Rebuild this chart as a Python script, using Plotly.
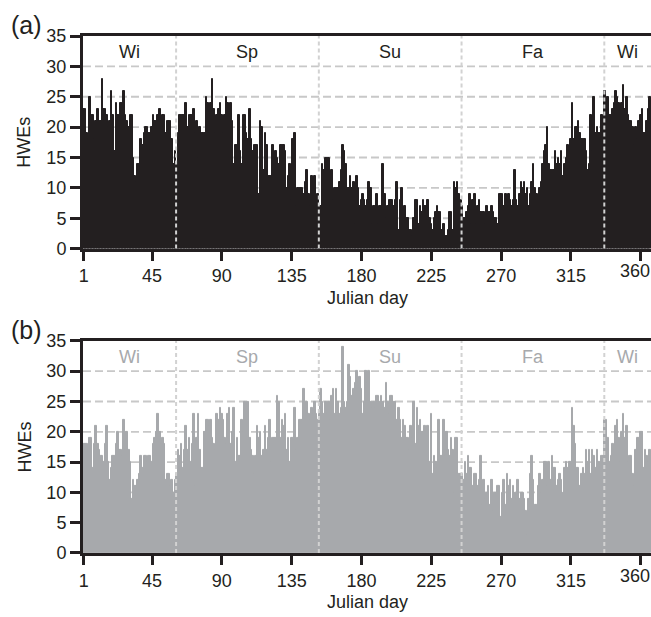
import plotly.graph_objects as go

# ---------------- data ----------------
days = list(range(1, 367))

# (a) daily HWE counts, panel a (black)
hwe_a = [
    23, 23, 19, 18, 25, 22, 22, 18, 21, 23,
    21, 21, 28, 23, 23, 22, 20, 21, 26, 22,
    16, 24, 22, 22, 24, 24, 26, 22, 21, 20,
    22, 22, 15, 12, 11, 14, 14, 18, 17, 19,
    20, 20, 19, 19, 20, 22, 21, 21, 22, 23,
    21, 22, 22, 19, 21, 21, 21, 18, 14, 16,
    14, 19, 22, 22, 22, 22, 24, 20, 22, 22,
    22, 23, 19, 21, 15, 20, 19, 19, 19, 25,
    24, 19, 24, 28, 23, 19, 22, 23, 24, 22,
    19, 22, 25,
    24, 23, 24, 21, 14, 17, 17, 22, 16, 14,
    22, 22, 19, 18, 23, 18, 16, 17, 17, 17,
    9, 21, 20, 13, 19, 17, 12, 12, 12, 17,
    14, 16, 15, 14, 17, 17, 17, 16, 10, 12,
    14, 8, 18, 19, 7, 10, 10, 10, 10, 9,
    11, 13, 9, 7, 12, 10, 12, 7, 9,
    7, 7, 14, 13, 15, 15, 15, 7, 13, 8,
    10, 10, 10, 11, 13, 17, 16, 14, 10, 10,
    12, 10, 11, 4, 12, 10, 7, 8, 9, 8,
    7, 8, 11,
    10, 4, 7, 7, 9, 4, 7, 7, 14, 9,
    5, 7, 8, 8, 8, 7, 8, 11, 3, 8,
    10, 4, 7, 5, 5, 3, 3, 2, 5, 8,
    8, 4, 7, 6, 8, 7, 7, 8, 5, 4,
    3, 5, 6, 7, 6, 6, 3, 4, 2, 2,
    3, 6, 6, 3, 11, 10, 11, 9, 8, 7,
    5, 5, 6, 7, 9, 4, 8, 9, 4, 7,
    8, 6, 6, 6, 4, 7, 6, 6, 7, 6,
    5, 5, 4, 9, 9, 9, 7, 9, 8, 9,
    8, 7, 8, 13, 8, 7, 9, 11, 10, 11,
    9, 10, 7, 9, 11, 14, 10, 9, 6, 10,
    11, 14, 16, 17, 20, 14, 13, 13, 13, 16,
    14, 15, 14, 16, 12, 14, 15, 17, 16, 18,
    24, 18, 20, 20, 21, 19, 18, 18, 18, 16,
    13, 14, 22, 16, 25, 19, 20, 19, 19, 22,
    21, 26, 23, 25, 22, 22, 23, 24, 26, 25,
    24, 23, 24, 27, 23, 25, 22, 21, 21, 20,
    17, 20, 18, 21, 22, 23, 19, 19, 21, 23,
    25,
]

# (b) daily HWE counts, panel b (grey)
hwe_b = [
    18, 18, 18, 17, 19, 19, 14, 18, 21, 18,
    17, 16, 16, 15, 18, 21, 15, 12, 14, 16,
    16, 18, 20, 17, 17, 16, 22, 17, 20, 17,
    15, 9, 12, 11, 11, 12, 13, 16, 14, 16,
    16, 15, 16, 16, 15, 18, 19, 20, 23, 20,
    18, 19, 18, 12, 13, 13, 11, 12, 10, 12,
    13, 17, 16, 18, 14, 17, 21, 17, 19, 15,
    18, 23, 11, 19, 23, 17, 14, 14, 20, 22,
    22, 21, 22, 19, 18, 17, 23, 22, 24, 23,
    22, 19, 18,
    23, 24, 18, 20, 24, 15, 19, 16, 16, 22,
    20, 25, 22, 25, 19, 17, 16, 13, 16, 21,
    19, 20, 16, 17, 21, 17, 19, 22, 15, 19,
    19, 19, 26, 25, 19, 22, 21, 23, 17, 19,
    15, 19, 19, 24, 17, 19, 22, 22, 22, 27,
    24, 25, 23, 22, 24, 23, 25, 23, 22,
    23, 27, 25, 23, 25, 23, 25, 22, 26, 27,
    23, 27, 25, 23, 24, 34, 25, 24, 25, 31,
    29, 26, 27, 28, 30, 28, 29, 27, 23, 25,
    30, 28, 30,
    25, 24, 25, 24, 26, 26, 25, 26, 25, 24,
    28, 25, 23, 26, 26, 25, 25, 22, 24, 22,
    19, 22, 21, 19, 19, 17, 21, 19, 25, 18,
    24, 21, 22, 20, 20, 21, 20, 21, 15, 23,
    13, 16, 15, 14, 22, 16, 16, 22, 16, 20,
    17, 16, 19, 17, 10, 19, 19, 13, 13, 13,
    12, 15, 13, 16, 14, 14, 11, 13, 13, 11,
    12, 16, 8, 12, 9, 10, 11, 8, 12, 7,
    10, 10, 11, 11, 6, 10, 12, 8, 13, 11,
    12, 9, 11, 10, 9, 12, 9, 10, 10, 9,
    7, 3, 9, 13, 16, 12, 8, 8, 11, 13,
    10, 12, 15, 15, 11, 15, 12, 16, 14, 14,
    11, 12, 13, 12, 10, 14, 15, 14, 15, 15,
    24, 21, 18, 14, 14, 11, 13, 14, 13, 17,
    15, 17, 13, 17, 16, 14, 17, 15, 14, 16,
    16, 22, 22, 19, 15, 16, 18, 17, 21, 22,
    19, 15, 20, 23, 19, 21, 15, 16, 16, 13,
    11, 17, 19, 19, 20, 20, 14, 17, 16, 15,
    17,
]

season_names = ["Wi", "Sp", "Su", "Fa", "Wi"]
season_bounds = [0.5, 60.5, 152.5, 244.5, 336.5, 366.5]
x_ticks = [1, 45, 90, 135, 180, 225, 270, 315, 360]
x_tick_labels = [str(v) for v in x_ticks]
y_ticks = [0, 5, 10, 15, 20, 25, 30, 35]
grid_levels = [5, 10, 15, 20, 25, 30]
panel_labels = ["(a)", "(b)"]

# ---------------- styling ----------------
W, H = 651, 617
INK = "#231f20"
GREY = "#a7a9ac"
GRID = "#c8c8c8"
FONT = "Liberation Sans, Arial, Helvetica, sans-serif"

# plot-area pixel extents
L = 83
pa = (36.0, 248.5)     # panel a: top, bottom
pb = (340.7, 552.7)    # panel b: top, bottom
T = pa[0]
B = H - pb[1]
PH = H - T - B


def ydom(top, bot):
    return [1 - (bot - T) / PH, 1 - (top - T) / PH]


def px(xpix):
    return (xpix - L) / (W - L)


def py(ypix):
    return 1 - (ypix - T) / PH


fig = go.Figure()
fig.add_trace(go.Bar(x=days, y=hwe_a, marker=dict(color=INK, line=dict(color=INK, width=1.0)),
                     xaxis="x", yaxis="y", showlegend=False, hoverinfo="x+y"))
fig.add_trace(go.Bar(x=days, y=hwe_b, marker=dict(color=GREY, line=dict(color=GREY, width=1.0)),
                     xaxis="x2", yaxis="y2", showlegend=False, hoverinfo="x+y"))

# last tick label is drawn as an annotation so that it stays inside the page
axis_tick_text = x_tick_labels[:-1] + [""]

xcommon = dict(range=[0.5, 366.6], tickmode="array", tickvals=x_ticks, ticktext=axis_tick_text,
               showline=True, linecolor=INK, linewidth=3, mirror=True,
               ticks="outside", tickcolor=INK, tickwidth=2.5, ticklen=9,
               tickfont=dict(size=18, color=INK, family=FONT),
               showgrid=False, zeroline=False, domain=[0, 1], automargin=False)
ycommon = dict(range=[0, 35], tickmode="array", tickvals=y_ticks,
               showline=True, linecolor=INK, linewidth=3, mirror=True,
               ticks="outside", tickcolor=INK, tickwidth=2.5, ticklen=10,
               tickfont=dict(size=18, color=INK, family=FONT),
               showgrid=False, zeroline=False, automargin=False)

fig.update_layout(
    width=W, height=H, autosize=False,
    margin=dict(l=L, r=0, t=T, b=B, pad=0, autoexpand=False),
    paper_bgcolor="white", plot_bgcolor="white",
    bargap=0,
    font=dict(family=FONT, color=INK),
    xaxis=dict(**xcommon, anchor="y"),
    yaxis=dict(**ycommon, domain=ydom(*pa), anchor="x"),
    xaxis2=dict(**xcommon, anchor="y2"),
    yaxis2=dict(**ycommon, domain=ydom(*pb), anchor="x2"),
)

shapes = []
annotations = []
for ax, ycol, (top, bot), plabel in [("", INK, pa, panel_labels[0]), ("2", GREY, pb, panel_labels[1])]:
    xr = "x" + ax
    yr = "y" + ax
    # dashed horizontal grid, beneath the bars
    for g in grid_levels:
        shapes.append(dict(type="line", xref=xr + " domain", yref=yr, x0=0, x1=1, y0=g, y1=g,
                           line=dict(color=GRID, width=1.8, dash="8px,4px"), layer="below"))
    # dashed season dividers, over the bars
    for d in season_bounds[1:-1]:
        shapes.append(dict(type="line", xref=xr, yref=yr, x0=d, x1=d, y0=0, y1=35,
                           line=dict(color="#d2d2d2", width=2, dash="4px,3px"), layer="above"))
    for i, name in enumerate(season_names):
        mid = (season_bounds[i] + season_bounds[i + 1]) / 2
        annotations.append(dict(xref=xr, yref=yr, x=mid, y=32.3, text=name, showarrow=False,
                                font=dict(size=18, color=ycol, family=FONT),
                                xanchor="center", yanchor="middle"))
    # last x tick label
    annotations.append(dict(xref=xr, yref="paper", x=x_ticks[-1], y=py(bot + 22.5),
                            text=x_tick_labels[-1], showarrow=False, xshift=-6,
                            font=dict(size=18, color=INK, family=FONT),
                            xanchor="center", yanchor="middle"))
    annotations.append(dict(xref="paper", yref="paper", x=px(24.5), y=py((top + bot) / 2),
                            text="HWEs", textangle=-90, showarrow=False,
                            font=dict(size=18, color=INK, family=FONT),
                            xanchor="center", yanchor="middle"))
    annotations.append(dict(xref="paper", yref="paper", x=px(367), y=py(bot + 49),
                            text="Julian day", showarrow=False,
                            font=dict(size=18, color=INK, family=FONT),
                            xanchor="center", yanchor="middle"))
    annotations.append(dict(xref="paper", yref="paper", x=px(26), y=py(top - 11),
                            text=plabel, showarrow=False,
                            font=dict(size=25, color=INK, family=FONT),
                            xanchor="center", yanchor="middle"))

fig.update_layout(shapes=shapes, annotations=annotations)
fig.write_html("out.html",
               config=dict(displayModeBar=False, responsive=False),
               post_script="document.documentElement.style.margin='0px';"
                           "document.body.style.margin='0px';document.body.style.padding='0px';"
                           "document.documentElement.style.overflow='hidden';")
